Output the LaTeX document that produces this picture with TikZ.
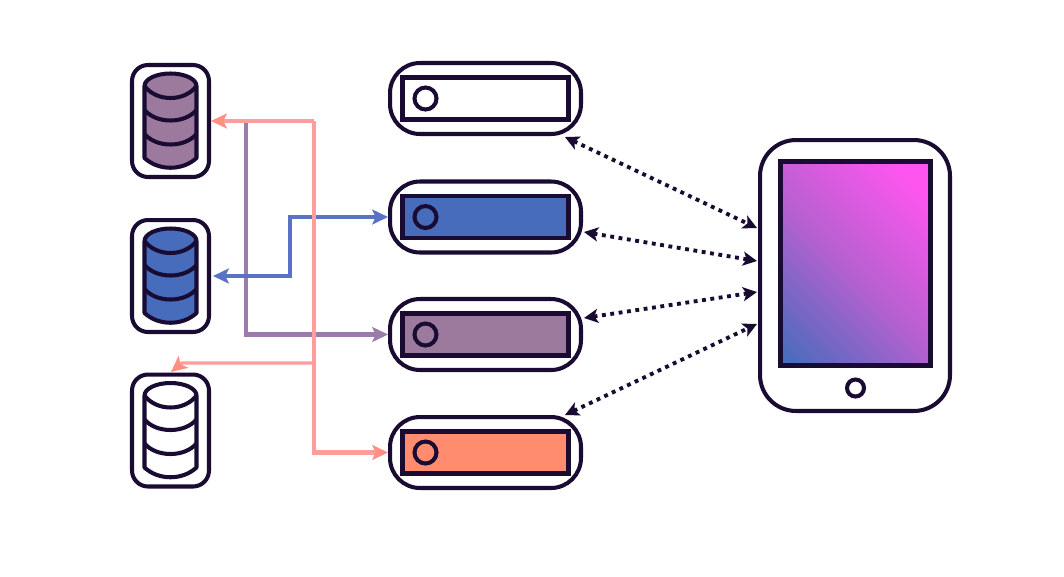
\documentclass[tikz,border=0pt]{standalone}
\usetikzlibrary{arrows.meta,calc}
\definecolor{inkdark}{HTML}{1A0B33}
\definecolor{dbpurple}{HTML}{9B7A9E}
\definecolor{dbblue}{HTML}{466CBB}
\definecolor{srvorange}{HTML}{FF8C6E}
\definecolor{linkpink}{HTML}{FF9C9C}
\definecolor{linksalmon}{HTML}{FF8F80}
\definecolor{linkpurple}{HTML}{9A7BAA}
\definecolor{linkblue}{HTML}{5A72C6}
\definecolor{screenmag}{HTML}{FF55F0}
\definecolor{screenmid}{HTML}{B860D0}
\pgfdeclarehorizontalshading{screengrad}{100bp}{color(0bp)=(screenmag); color(21bp)=(screenmag); color(52bp)=(screenmid); color(84bp)=(dbblue); color(100bp)=(dbblue)}
\tikzset{
	dbbox/.style={draw=inkdark, line width=2.3pt, rounded corners=0.32cm, minimum width=1.54cm, minimum height=2.24cm, outer sep=0pt, inner sep=0pt},
	srvbox/.style={draw=inkdark, line width=2.3pt, rounded corners=0.6cm, minimum width=3.82cm, minimum height=1.42cm, outer sep=0pt, inner sep=0pt},
	srvpanel/.style={draw=inkdark, line width=2.7pt, minimum width=3.32cm, minimum height=0.84cm, outer sep=0pt, inner sep=0pt},
	srvlamp/.style={circle, draw=inkdark, line width=2.3pt, minimum size=0.44cm, outer sep=0pt, inner sep=0pt},
	tabletbox/.style={draw=inkdark, line width=2.3pt, rounded corners=0.72cm, minimum width=3.8cm, minimum height=5.42cm, outer sep=0pt, inner sep=0pt},
	screenbox/.style={draw=inkdark, line width=2.7pt, minimum width=3.0cm, minimum height=4.08cm, outer sep=0pt, inner sep=0pt},
	homebtn/.style={circle, draw=inkdark, line width=2.3pt, minimum size=0.34cm, outer sep=0pt, inner sep=0pt},
	pinklink/.style={draw=linkpink, line width=2.3pt, -{Stealth[length=9pt,width=8.5pt,inset=2pt,color=linksalmon]}},
	purplelink/.style={draw=linkpurple, line width=2.3pt, -{Stealth[length=9pt,width=8.5pt,inset=2pt]}},
	bluelink/.style={draw=linkblue, line width=2.3pt, {Stealth[length=9pt,width=8.5pt,inset=2pt]}-{Stealth[length=9pt,width=8.5pt,inset=2pt]}},
	dotlink/.style={draw=inkdark, line width=2.2pt, dash pattern=on 2.2pt off 2.6pt, {Stealth[length=8pt,width=8pt,inset=2pt]}-{Stealth[length=8pt,width=8pt,inset=2pt]}},
	pics/dbstack/.style={code={
		\filldraw[fill=#1, draw=inkdark, line width=2.3pt, line join=round]
			(-26,-35) -- (-26,37) .. controls (-12,50) and (12,50) .. (26,37) -- (26,-35)
			arc[start angle=0, end angle=-180, x radius=26, y radius=12.5] -- cycle;
		\draw[inkdark, line width=2.3pt] (-26,-35) .. controls (-14,-19) and (14,-19) .. (26,-35);
		\draw[inkdark, line width=2.3pt] (-26,-11) .. controls (-14,3) and (14,3) .. (26,-11);
		\draw[inkdark, line width=2.3pt] (-26,13) .. controls (-14,27) and (14,27) .. (26,13);
	}}
}
\begin{document}
\begin{tikzpicture}[x=0.02cm, y=-0.02cm]
	\useasboundingbox (0,0) rectangle (1064,576);

	% Database stacks
	\node[dbbox] (db1) at (170.5,121) {};
	\node[dbbox] (db2) at (170.5,276) {};
	\node[dbbox] (db3) at (170.5,430.5) {};
	\pic at (db1.center) {dbstack=dbpurple};
	\pic at (db2.center) {dbstack=dbblue};
	\pic at (db3.center) {dbstack=white};

	% Servers
	\foreach \name/\ypos/\col in {srv1/98.5/white, srv2/217/dbblue, srv3/334.5/dbpurple, srv4/452.5/srvorange} {
		\node[srvbox] (\name) at (485.5,\ypos) {};
		\node[srvpanel, fill=\col] (\name panel) at (\name.center) {};
		\node[srvlamp, fill=\col] (\name lamp) at ($(\name.center)+(-60,0)$) {};
	}

	% Tablet
	\node[tabletbox] (tablet) at (855,275.5) {};
	\node[screenbox, shade, shading=screengrad, shading angle=-135] (screen) at (855.5,263.5) {};
	\node[homebtn] (home) at (855.5,388) {};

	% Coloured links
	\coordinate (bend1) at (314,121);
	\coordinate (tee1) at (246,121);
	\coordinate (tee2) at (314,363);
	\coordinate (bend2) at (290,276);
	\coordinate (db3top) at (171,372);
	\draw[purplelink] (tee1) |- ($(srv3.west)+(-2,0)$);
	\draw[bluelink] ($(db2.east)+(4,0)$) -| (bend2) |- ($(srv2.west)+(-2,0)$);
	\draw[pinklink] (bend1) -- ($(db1.east)+(2,0)$);
	\draw[pinklink] (bend1) |- ($(srv4.west)+(-2,0)$);
	\draw[pinklink, line width=1.8pt] (tee2) -- (182,363) -- (db3top);

	% Links to the tablet
	\coordinate (s1) at (565,137);
	\coordinate (s2) at (584,232);
	\coordinate (s3) at (584,318);
	\coordinate (s4) at (565,415);
	\coordinate (t1) at (757,228);
	\coordinate (t2) at (757,261);
	\coordinate (t3) at (757,292);
	\coordinate (t4) at (757,324);
	\foreach \i in {1,2,3,4} {
		\draw[dotlink] (s\i) -- (t\i);
	}
\end{tikzpicture}
\end{document}
